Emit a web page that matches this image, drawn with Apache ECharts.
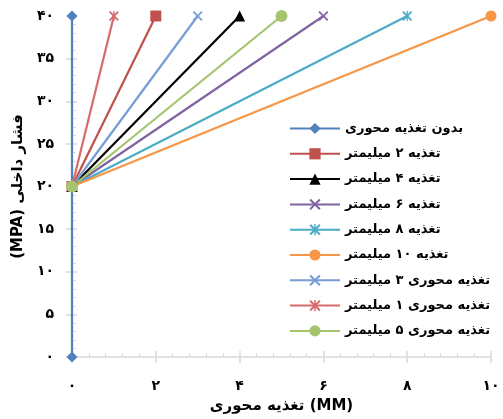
<!DOCTYPE html>
<html dir="ltr">
<head>
<meta charset="utf-8">
<script src="https://cdn.jsdelivr.net/npm/echarts@6/dist/echarts.min.js"></script>
<style>html,body{margin:0;padding:0;background:#fff;}#c{width:503px;height:419px;}</style>
</head>
<body>
<div id="c"></div>
<script>
// ---- data ----
var seriesNames = [
  'بدون تغذیه محوری',
  'تغذیه ۲ میلیمتر',
  'تغذیه ۴ میلیمتر',
  'تغذیه ۶ میلیمتر',
  'تغذیه ۸ میلیمتر',
  'تغذیه ۱۰ میلیمتر',
  'تغذیه محوری ۳ میلیمتر',
  'تغذیه محوری ۱ میلیمتر',
  'تغذیه محوری ۵ میلیمتر'
];
var s0 = [[0, 0], [0, 40]];
var s1 = [[0, 20], [2, 40]];
var s2 = [[0, 20], [4, 40]];
var s3 = [[0, 20], [6, 40]];
var s4 = [[0, 20], [8, 40]];
var s5 = [[0, 20], [10, 40]];
var s6 = [[0, 20], [3, 40]];
var s7 = [[0, 20], [1, 40]];
var s8 = [[0, 20], [5, 40]];
var seriesData = [s0, s1, s2, s3, s4, s5, s6, s7, s8];
var xTickLabels = ['۰', '۲', '۴', '۶', '۸', '۱۰'];
var yTickLabels = ['۰', '۵', '۱۰', '۱۵', '۲۰', '۲۵', '۳۰', '۳۵', '۴۰'];
var xAxisName = 'تغذیه محوری (MM)';
var yAxisName = '(MPA) فشار داخلی';

// ---- styles ----
var FONT = 'DejaVu Sans';
var X_PATH = 'path://M0,1.3 L1.3,0 L5,3.7 L8.7,0 L10,1.3 L6.3,5 L10,8.7 L8.7,10 L5,6.3 L1.3,10 L0,8.7 L3.7,5 Z';
var STAR_PATH = 'path://M0,1.3 L1.3,0 L5,3.7 L8.7,0 L10,1.3 L6.3,5 L10,8.7 L8.7,10 L5,6.3 L1.3,10 L0,8.7 L3.7,5 Z M4.35,0 L5.65,0 L5.65,10 L4.35,10 Z';
var styles = [
  {color: '#4F81BD', symbol: 'diamond', size: 11},
  {color: '#C0504D', symbol: 'rect', size: 11},
  {color: '#000000', symbol: 'triangle', size: 11},
  {color: '#8064A2', symbol: X_PATH, size: 10},
  {color: '#4BACC6', symbol: STAR_PATH, size: 10},
  {color: '#F79646', symbol: 'circle', size: 11},
  {color: '#779DD5', symbol: X_PATH, size: 10},
  {color: '#D46C6B', symbol: STAR_PATH, size: 10},
  {color: '#A5C46E', symbol: 'circle', size: 12}
];

var series = seriesData.map(function (d, i) {
  var st = styles[i];
  return {
    name: seriesNames[i],
    type: 'line',
    xAxisIndex: 0,
    yAxisIndex: 0,
    data: d,
    symbol: st.symbol,
    symbolSize: st.size,
    showAllSymbol: true,
    lineStyle: {color: st.color, width: 2.2},
    itemStyle: {color: st.color, borderWidth: 0},
    emphasis: {disabled: true},
    animation: false
  };
});

var axisColor = '#D9D9D9';
var chart = echarts.init(document.getElementById('c'), null, {renderer: 'canvas'});
chart.setOption({
  backgroundColor: '#ffffff',
  animation: false,
  grid: {left: 72, right: 12, top: 16, bottom: 61, containLabel: false},
  legend: {
    orient: 'vertical',
    left: 284,
    top: 117,
    itemWidth: 50,
    itemHeight: 14,
    itemGap: 12.3,
    data: seriesNames,
    textStyle: {fontFamily: FONT, fontWeight: 'bold', fontSize: 13, color: '#000'}
  },
  xAxis: [{
    type: 'value', min: 0, max: 10, interval: 2, position: 'bottom',
    name: xAxisName, nameLocation: 'middle', nameGap: 42,
    nameTextStyle: {fontFamily: FONT, fontWeight: 'bold', fontSize: 15, color: '#000'},
    axisLine: {show: true, onZero: false, lineStyle: {color: axisColor, width: 1.5}},
    axisTick: {show: true, inside: false, length: 6, lineStyle: {color: axisColor, width: 1.5}},
    minorTick: {show: false},
    splitLine: {show: false},
    axisLabel: {
      margin: 22, fontFamily: FONT, fontWeight: 'bold', fontSize: 14, color: '#000',
      formatter: function (v) { return xTickLabels[Math.round(v / 2)]; }
    }
  }, {
    type: 'value', min: 0, max: 10, interval: 2, position: 'bottom',
    axisLine: {show: false, onZero: false},
    axisTick: {show: true, inside: true, length: 6, lineStyle: {color: axisColor, width: 1.5}},
    minorTick: {show: true, splitNumber: 5, length: 4, lineStyle: {color: axisColor, width: 1}},
    splitLine: {show: false},
    axisLabel: {show: false}
  }],
  yAxis: [{
    type: 'value', min: 0, max: 40, interval: 5, position: 'left',
    name: yAxisName, nameLocation: 'middle', nameGap: 44,
    nameTextStyle: {fontFamily: FONT, fontWeight: 'bold', fontSize: 15, color: '#000'},
    axisLine: {show: true, onZero: false, lineStyle: {color: axisColor, width: 1.5}},
    axisTick: {show: true, inside: false, length: 6, lineStyle: {color: axisColor, width: 1.5}},
    minorTick: {show: false},
    splitLine: {show: false},
    axisLabel: {
      margin: 18, fontFamily: FONT, fontWeight: 'bold', fontSize: 14, color: '#000',
      formatter: function (v) { return yTickLabels[Math.round(v / 5)]; }
    }
  }, {
    type: 'value', min: 0, max: 40, interval: 5, position: 'left',
    axisLine: {show: false, onZero: false},
    axisTick: {show: true, inside: true, length: 5, lineStyle: {color: axisColor, width: 1.5}},
    minorTick: {show: true, splitNumber: 5, length: 4, lineStyle: {color: axisColor, width: 1}},
    splitLine: {show: false},
    axisLabel: {show: false}
  }],
  series: series
});
</script>
</body>
</html>
